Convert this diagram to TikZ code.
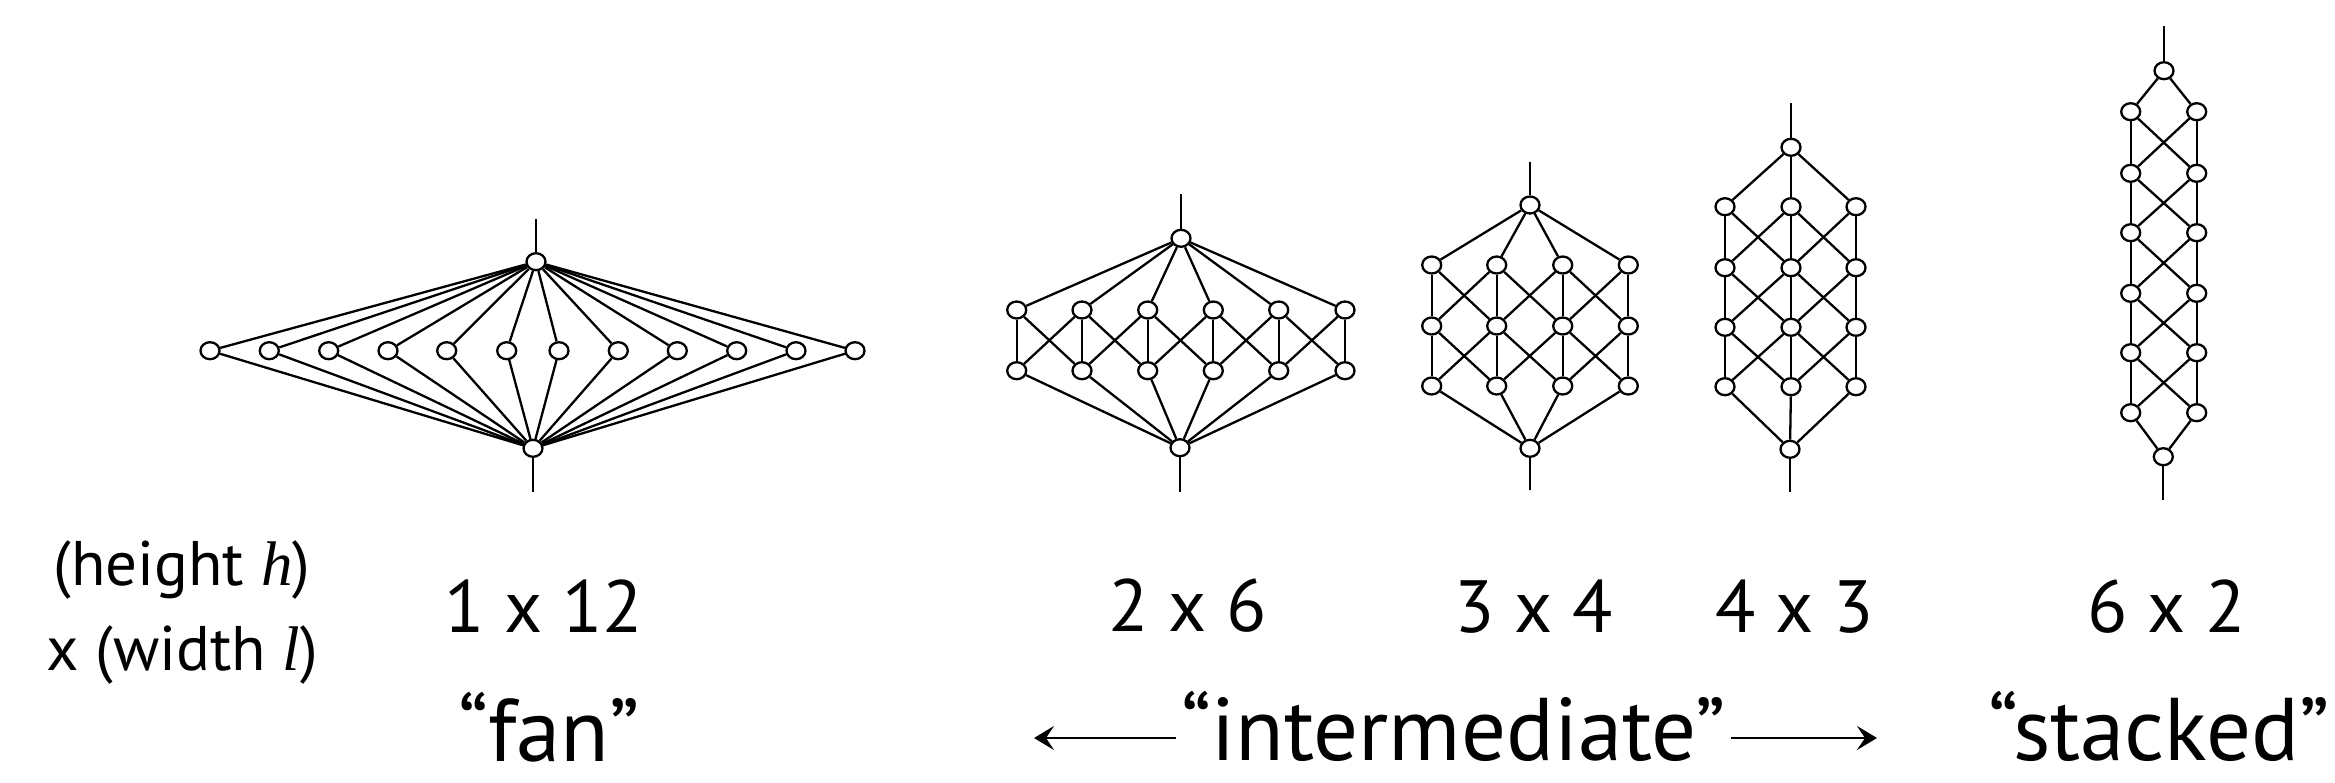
\documentclass[tikz,border=0pt]{standalone}
\usepackage{fontspec}
\setmainfont{PT Sans}
\newfontfamily\serifit{Liberation Serif}
\usetikzlibrary{shapes.geometric,arrows.meta,calc}

% edges of a layered lattice: top -> first row, row r col c -> row r+1 cols c-1..c+1, last row -> bottom
\newcommand{\latedges}[3]{%
  \foreach \c in {1,...,#3} {
    \draw[edge] (#1-t) -- (#1-1-\c);
    \draw[edge] (#1-#2-\c) -- (#1-b);
  }
  \pgfmathtruncatemacro\lastrow{#2-1}
  \foreach \r in {1,...,\lastrow} {
    \pgfmathtruncatemacro\rn{\r+1}
    \foreach \c in {1,...,#3} {
      \draw[edge] (#1-\r-\c) -- (#1-\rn-\c);
      \ifnum\c<#3
        \pgfmathtruncatemacro\cn{\c+1}
        \draw[edge] (#1-\r-\c) -- (#1-\rn-\cn);
        \draw[edge] (#1-\r-\cn) -- (#1-\rn-\c);
      \fi
    }
  }
}

\begin{document}
\begin{tikzpicture}[x=1pt,y=-1pt,
  vtx/.style={ellipse,draw,fill=white,line width=2.3pt,minimum width=19pt,minimum height=17pt,inner sep=0pt},
  edge/.style={line width=2.3pt},
  dimlabel/.style={font=\fontsize{74}{84}\selectfont,anchor=base,inner sep=0pt},
  kindlabel/.style={font=\fontsize{89}{99}\selectfont,anchor=base,inner sep=0pt},
  axislabel/.style={font=\fontsize{63}{85}\selectfont,anchor=base,inner sep=0pt,align=center},
  arr/.style={line width=2pt,-{Stealth[length=20pt,width=24pt,inset=8pt]}}
]
\useasboundingbox (0,0) rectangle (2335,782);

% ---- 1 x 12 fan ----
\node[vtx] (f-t) at (536,261.7) {};
\node[vtx] (f-b) at (533,448.3) {};
\foreach \x [count=\i] in {210,269.3,328.7,388,446.7,506.7,559,618.3,677.3,736.7,796,855}
  \node[vtx] (f-\i) at (\x,350.7) {};
\coordinate (f-tt) at (536,219);
\coordinate (f-bb) at (533,491.7);
\draw[edge] (f-tt) -- (f-t);
\draw[edge] (f-b) -- (f-bb);
\foreach \i in {1,...,12} {
  \draw[edge] (f-t) -- (f-\i);
  \draw[edge] (f-\i) -- (f-b);
}

% ---- 2 x 6 ----
\node[vtx] (a-t) at (1181,238.3) {};
\node[vtx] (a-b) at (1180,447.7) {};
\foreach \y [count=\r] in {310,370.7}
  \foreach \x [count=\c] in {1016.7,1082,1147.7,1213.3,1278.7,1345}
    \node[vtx] (a-\r-\c) at (\x,\y) {};
\coordinate (a-tt) at (1181,194);
\coordinate (a-bb) at (1180,491.7);
\draw[edge] (a-tt) -- (a-t);
\draw[edge] (a-b) -- (a-bb);
\latedges{a}{2}{6}

% ---- 3 x 4 ----
\node[vtx] (b-t) at (1530,205) {};
\node[vtx] (b-b) at (1530,448.3) {};
\foreach \y [count=\r] in {265,326,386}
  \foreach \x [count=\c] in {1431.7,1496.7,1562.7,1628.3}
    \node[vtx] (b-\r-\c) at (\x,\y) {};
\coordinate (b-tt) at (1530,161.7);
\coordinate (b-bb) at (1530,490);
\draw[edge] (b-tt) -- (b-t);
\draw[edge] (b-b) -- (b-bb);
\latedges{b}{3}{4}

% ---- 4 x 3 ----
\node[vtx] (c-t) at (1791,147.3) {};
\node[vtx] (c-b) at (1790,449.3) {};
\foreach \y [count=\r] in {206.7,267.7,327.3,386.7}
  \foreach \x [count=\c] in {1725,1791,1856}
    \node[vtx] (c-\r-\c) at (\x,\y) {};
\coordinate (c-tt) at (1791,103.3);
\coordinate (c-bb) at (1790,491.7);
\draw[edge] (c-tt) -- (c-t);
\draw[edge] (c-b) -- (c-bb);
\latedges{c}{4}{3}

% ---- 6 x 2 ----
\node[vtx] (d-t) at (2164,70.7) {};
\node[vtx] (d-b) at (2163.3,456.7) {};
\foreach \y [count=\r] in {111.7,173.3,232.7,293.3,352.7,412.7}
  \foreach \x [count=\c] in {2130.7,2196.7}
    \node[vtx] (d-\r-\c) at (\x,\y) {};
\coordinate (d-tt) at (2164,26);
\coordinate (d-bb) at (2163.3,500);
\draw[edge] (d-tt) -- (d-t);
\draw[edge] (d-b) -- (d-bb);
\latedges{d}{6}{2}

% ---- labels ----
\node[axislabel] (hl) at (182,670) {(height {\serifit\itshape h})\\x (width {\serifit\itshape l})};
\node[dimlabel] (d1) at (544,632.7) {1 x 12};
\node[dimlabel] (d2) at (1187.5,631.7) {2 x 6};
\node[dimlabel] (d3) at (1534,632) {3 x 4};
\node[dimlabel] (d4) at (1794.5,632) {4 x 3};
\node[dimlabel] (d5) at (2167,632) {6 x 2};
\node[kindlabel] (kfan) at (549,761) {“fan”};
\node[kindlabel] (kint) at (1453.5,760) {“intermediate”};
\node[kindlabel] (kstack) at (2159,760) {“stacked”};

% ---- arrows either side of "intermediate" ----
\coordinate (la) at (1034,738);
\coordinate (ra) at (1877,738);
\draw[arr] ($(kint.west|-la)+(-5,0)$) -- (la);
\draw[arr] ($(kint.east|-ra)+(5,0)$) -- (ra);
\end{tikzpicture}
\end{document}
